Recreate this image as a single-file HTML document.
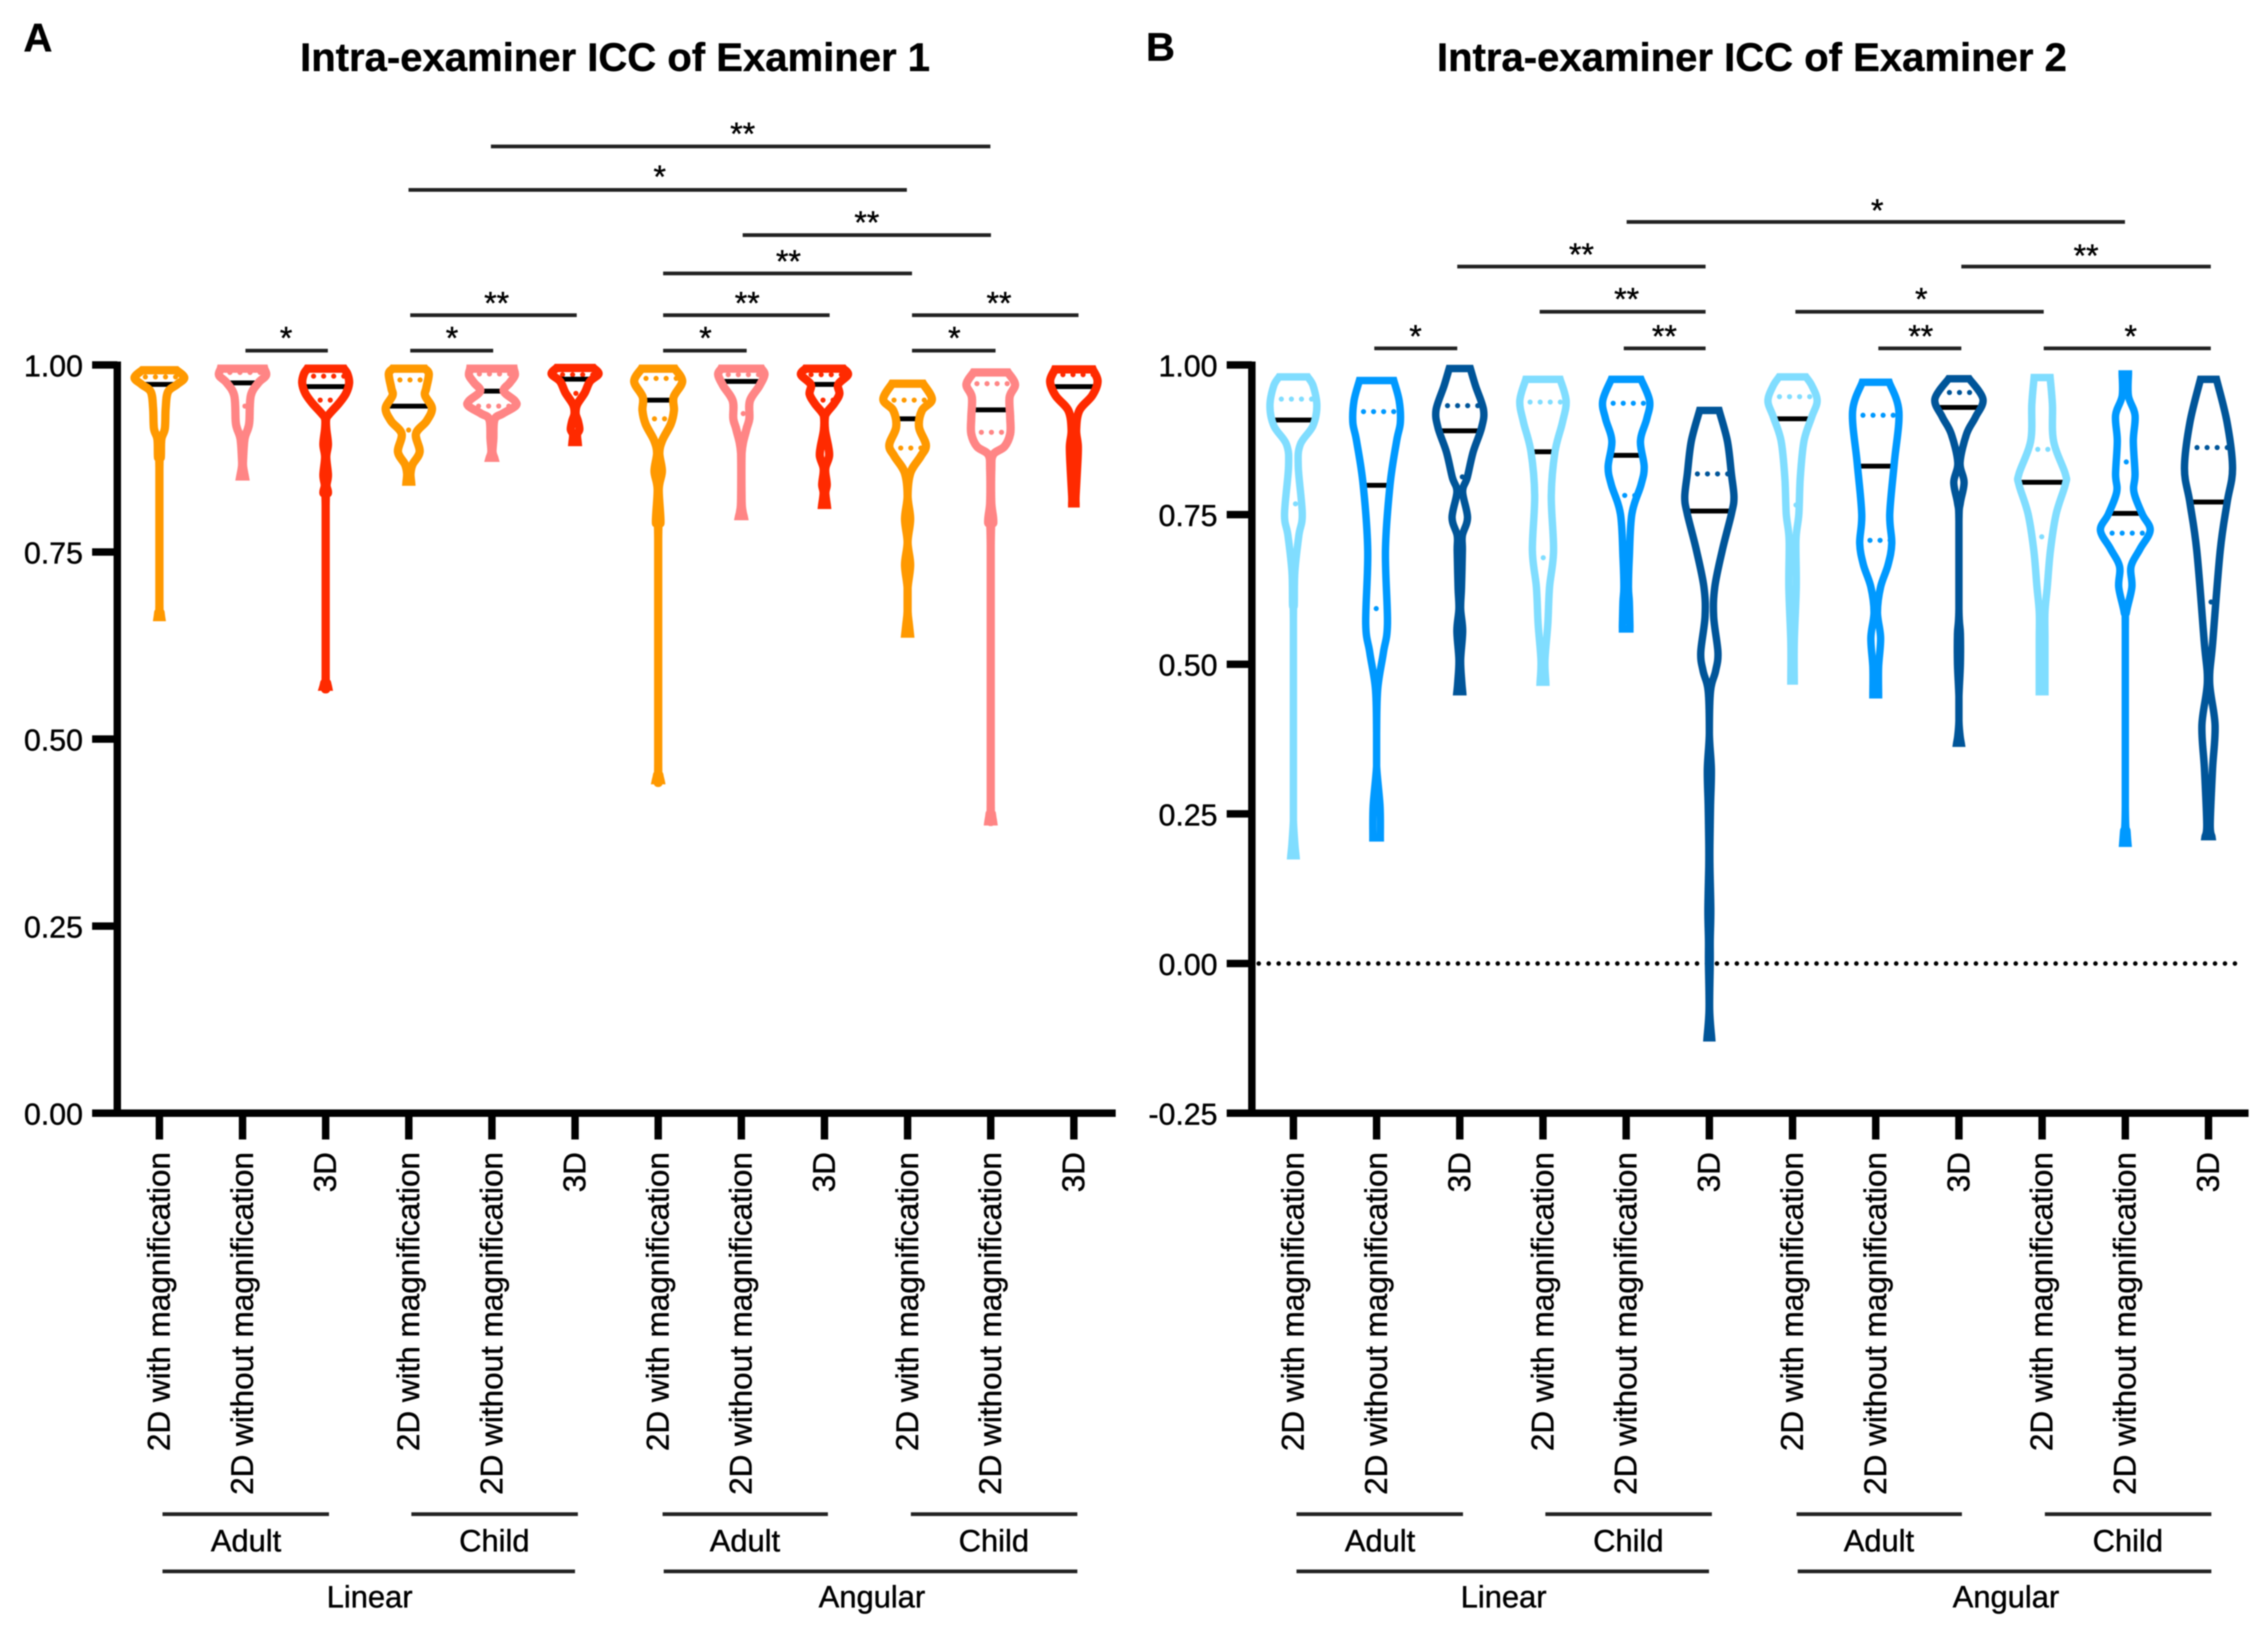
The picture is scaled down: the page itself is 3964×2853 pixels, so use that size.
<!DOCTYPE html>
<html lang="en">
<head>
<meta charset="utf-8">
<title>Intra-examiner ICC violin plots</title>
<style>
html,body{margin:0;padding:0;background:#fff;}
svg{display:block;filter:blur(1.1px);}
text{font-family:"Liberation Sans",Arial,sans-serif;fill:#000;stroke:#000;stroke-width:0.7px;}
</style>
</head>
<body>
<svg id="figure" xmlns="http://www.w3.org/2000/svg" width="3964" height="2853" viewBox="0 0 3964 2853">
<rect x="0" y="0" width="3964" height="2853" fill="#fff"/>

<text x="41" y="90" font-size="70" font-weight="bold">A</text>
<text x="2003" y="106" font-size="70" font-weight="bold">B</text>
<text x="1075" y="124" font-size="70" font-weight="bold" text-anchor="middle">Intra-examiner ICC of Examiner 1</text>
<text x="3062" y="124" font-size="70" font-weight="bold" text-anchor="middle">Intra-examiner ICC of Examiner 2</text>

<g stroke="#222" stroke-width="6.5" font-size="56" text-anchor="middle">
<line x1="858" x2="1731" y1="256" y2="256"/>
<text x="1298" y="253">**</text>
<line x1="714" x2="1585" y1="332" y2="332"/>
<text x="1153" y="328">*</text>
<line x1="1298" x2="1732" y1="411" y2="411"/>
<text x="1515" y="408">**</text>
<line x1="1159" x2="1594" y1="478" y2="478"/>
<text x="1378" y="476">**</text>
<line x1="717" x2="1008" y1="551" y2="551"/>
<text x="868" y="549">**</text>
<line x1="1159" x2="1450" y1="551" y2="551"/>
<text x="1306" y="549">**</text>
<line x1="1594" x2="1885" y1="551" y2="551"/>
<text x="1746" y="549">**</text>
<line x1="429" x2="573" y1="613" y2="613"/>
<text x="500" y="610">*</text>
<line x1="717" x2="862" y1="613" y2="613"/>
<text x="790" y="610">*</text>
<line x1="1159" x2="1305" y1="613" y2="613"/>
<text x="1233" y="610">*</text>
<line x1="1594" x2="1740" y1="613" y2="613"/>
<text x="1668" y="610">*</text>
</g>

<g stroke="#222" stroke-width="6.5" font-size="56" text-anchor="middle">
<line x1="2843" x2="3714" y1="388" y2="388"/>
<text x="3281" y="387">*</text>
<line x1="2547" x2="2981" y1="466" y2="466"/>
<text x="2764" y="464">**</text>
<line x1="3428" x2="3864" y1="466" y2="466"/>
<text x="3646" y="466">**</text>
<line x1="2691" x2="2981" y1="545" y2="545"/>
<text x="2843" y="542">**</text>
<line x1="3138" x2="3572" y1="545" y2="545"/>
<text x="3358" y="542">*</text>
<line x1="2402" x2="2547" y1="609" y2="609"/>
<text x="2474" y="607">*</text>
<line x1="2838" x2="2981" y1="609" y2="609"/>
<text x="2909" y="607">**</text>
<line x1="3283" x2="3428" y1="609" y2="609"/>
<text x="3357" y="607">**</text>
<line x1="3572" x2="3864" y1="609" y2="609"/>
<text x="3724" y="607">*</text>
</g>

<g font-size="54" text-anchor="middle" stroke="#222" stroke-width="6.5">
<line x1="284" x2="575" y1="2647" y2="2647"/>
<text x="430" y="2712">Adult</text>
<line x1="719" x2="1010" y1="2647" y2="2647"/>
<text x="864" y="2712">Child</text>
<line x1="284" x2="1005" y1="2747" y2="2747"/>
<text x="646" y="2810">Linear</text>
<line x1="1158" x2="1447" y1="2647" y2="2647"/>
<text x="1302" y="2712">Adult</text>
<line x1="1592" x2="1883" y1="2647" y2="2647"/>
<text x="1737" y="2712">Child</text>
<line x1="1160" x2="1883" y1="2747" y2="2747"/>
<text x="1524" y="2810">Angular</text>
</g>

<g font-size="54" text-anchor="middle" stroke="#222" stroke-width="6.5">
<line x1="2266" x2="2557" y1="2647" y2="2647"/>
<text x="2412" y="2712">Adult</text>
<line x1="2701" x2="2992" y1="2647" y2="2647"/>
<text x="2846" y="2712">Child</text>
<line x1="2266" x2="2987" y1="2747" y2="2747"/>
<text x="2628" y="2810">Linear</text>
<line x1="3140" x2="3429" y1="2647" y2="2647"/>
<text x="3284" y="2712">Adult</text>
<line x1="3574" x2="3865" y1="2647" y2="2647"/>
<text x="3719" y="2712">Child</text>
<line x1="3142" x2="3865" y1="2747" y2="2747"/>
<text x="3506" y="2810">Angular</text>
</g>
</svg>

<script>
// ---- Shared categories and tick labels ----
const xCategories = [
  '2D with magnification','2D without magnification','3D',
  '2D with magnification','2D without magnification','3D',
  '2D with magnification','2D without magnification','3D',
  '2D with magnification','2D without magnification','3D'
];
const yTicksA = [1.00,0.75,0.50,0.25,0.00];
const yTickLabelsA = ['1.00','0.75','0.50','0.25','0.00'];
const yTicksB = [1.00,0.75,0.50,0.25,0.00,-0.25];
const yTickLabelsB = ['1.00','0.75','0.50','0.25','0.00','-0.25'];

// ---- Panel A: ICC values of the density grid, one list per violin ----
const iccGridA = [
  [.993,.983,.974,.964,.942,.915,.901,.877,.860,.682,.669,.663],
  [.995,.986,.976,.959,.925,.915,.901,.874,.864,.851],
  [.995,.988,.976,.962,.949,.935,.928,.915,.894,.877,.853,.839,.829,.812,.587,.575,.570],
  [.995,.988,.969,.959,.942,.925,.908,.884,.867,.855,.844],
  [.995,.986,.976,.965,.952,.945,.935,.927,.901,.884,.876],
  [.996,.988,.978,.963,.947,.935,.925,.914,.907,.897],
  [.995,.978,.957,.939,.921,.899,.882,.858,.834,.79,.768,.469,.452,.445],
  [.995,.987,.972,.952,.928,.913,.882,.82,.805,.798],
  [.995,.987,.974,.961,.948,.932,.913,.891,.878,.864,.856,.84,.829,.813],
  [.975,.954,.939,.917,.893,.878,.856,.825,.794,.763,.733,.702,.671,.655,.641],
  [.99,.974,.957,.93,.908,.891,.88,.86,.816,.79,.759,.421,.4,.39],
  [.994,.978,.959,.939,.913,.891,.86,.825,.815]
];
// Panel A: relative density at each grid value
const densityA = [
  [60,87,62,30,22,19,7,5,0,0,4,6],
  [76,82,55,29,24,19,7,2,2,8],
  [64,76,82,71,47,14,2,2,8,2,8,3,8,0,0,5,8],
  [56,70,61,57,81,62,25,38,13,6,8],
  [76,80,62,41,80,82,38,9,5,2,8],
  [64,82,52,34,7,2,10,15,7,9],
  [58,84,54,55,44,14,4,13,2,8,0,0,4,8],
  [70,81,63,30,28,17,1,1,4,8],
  [66,82,48,52,33,2,2,13,16,4,3,8,3,8],
  [54,85,50,40,64,46,10,0,9,0,9,0,0,4,8],
  [60,85,66,68,68,48,8,2,2,9,0,0,4,8],
  [66,83,64,19,8,14,11,6,6]
];
const mediansA = [.974,.976,.971,.945,.965,.981,.953,.978,.974,.928,.94,.971];
const upperQuartilesA = [.984,.990,.985,.980,.988,.987,.982,.987,.987,.953,.975,.987];
const lowerQuartilesA = [.90,.945,.953,.913,.945,.962,.928,.935,.953,.889,.91,.90];

// ---- Panel B ----
const iccGridB = [
  [.98,.965,.931,.898,.867,.83,.751,.715,.654,.6,.568,.263,.239,.2,.18],
  [.974,.94,.904,.873,.8,.69,.568,.52,.459,.385,.33,.263,.21],
  [.994,.965,.925,.895,.855,.812,.788,.745,.715,.69,.629,.593,.556,.507,.47,.454],
  [.976,.94,.904,.855,.782,.69,.629,.568,.507,.47],
  [.976,.94,.91,.873,.83,.8,.751,.678,.629,.605,.568,.559],
  [.924,.873,.818,.779,.751,.69,.629,.58,.52,.489,.455,.385,.324,.263,.202,.163,.09,.04,0,-.076,-.124],
  [.98,.965,.94,.913,.873,.812,.751,.708,.629,.537,.472],
  [.971,.922,.837,.751,.702,.666,.629,.587,.544,.495,.449],
  [.977,.943,.913,.885,.837,.804,.77,.739,.593,.551,.501,.446,.405,.38,.368],
  [.979,.934,.873,.818,.8,.751,.69,.629,.587,.539,.454],
  [.985,.948,.916,.873,.818,.788,.751,.724,.693,.663,.629,.587,.556,.263,.22,.201],
  [.976,.904,.827,.77,.69,.538,.47,.398,.324,.233,.212]
];
const densityB = [
  [50,69,82,68,24,17,31,19,5,3,0,0,0,5,9],
  [60,79,83,70,47,31,38,24,4,0,0,12,13],
  [37,55,83,76,47,26,10,27,9,9,6,3,10,3,7,10],
  [60,81,68,42,29,37,23,17,7,10],
  [52,82,72,50,63,52,20,11,8,11,13,13],
  [34,63,77,86,77,45,19,15,30,22,4,0,7,4,2,2,5,3,3,1,8],
  [47,68,86,67,40,27,22,12,13,6,6],
  [47,81,65,49,56,43,17,6,17,10,10],
  [36,84,58,27,4,18,5,0,0,5,5,0,0,4,8],
  [28,36,40,81,81,49,29,18,10,10,10],
  [11,11,34,28,34,30,59,87,52,20,23,4,0,0,6,9],
  [28,65,84,65,41,15,4,23,14,6,12]
];
const mediansB = [.908,.799,.89,.855,.849,.756,.91,.831,.929,.804,.752,.771];
const upperQuartilesB = [.943,.922,.932,.938,.936,.818,.947,.916,.954,.859,.838,.862];
const lowerQuartilesB = [.768,.593,.813,.678,.782,.46,.766,.707,.80,.713,.719,.604];

const paletteA = ['#FF9900','#FF8585','#FF2A00'];
const paletteB = ['#80DDFF','#0099FF','#005599'];

const SVGNS = 'http://www.w3.org/2000/svg';
const figure = document.getElementById('figure');

function mk(parent, tag, attrs, txt) {
  const el = document.createElementNS(SVGNS, tag);
  for (const k in attrs) el.setAttribute(k, attrs[k]);
  if (txt !== undefined) el.textContent = txt;
  parent.appendChild(el);
  return el;
}

// Half-width of the violin outline at a given density
function widthScale(d) { return d * 0.5; }

// Linear interpolation of density at an ICC value
function densityAt(grid, dens, v) {
  if (v >= grid[0]) return dens[0];
  for (let i = 1; i < grid.length; i++) {
    if (v >= grid[i]) {
      const t = (grid[i - 1] - v) / (grid[i - 1] - grid[i]);
      return dens[i - 1] + (dens[i] - dens[i - 1]) * t;
    }
  }
  return dens[dens.length - 1];
}

// Smooth curve through the points, keeping every half-width non-negative
function curveThrough(pts, cx, side) {
  let s = '';
  for (let i = 0; i < pts.length - 1; i++) {
    const p0 = pts[Math.max(i - 1, 0)], p1 = pts[i], p2 = pts[i + 1], p3 = pts[Math.min(i + 2, pts.length - 1)];
    const c1x = p1[0] + (p2[0] - p0[0]) / 6, c1y = p1[1] + (p2[1] - p0[1]) / 6;
    const c2x = p2[0] - (p3[0] - p1[0]) / 6, c2y = p2[1] - (p3[1] - p1[1]) / 6;
    const k1 = side * Math.max(0, side * (c1x - cx)) + cx;
    const k2 = side * Math.max(0, side * (c2x - cx)) + cx;
    s += 'C' + k1.toFixed(1) + ' ' + c1y.toFixed(1) + ' ' + k2.toFixed(1) + ' ' + c2y.toFixed(1) + ' ' + p2[0].toFixed(1) + ' ' + p2[1].toFixed(1);
  }
  return s;
}

function drawPanel(cfg) {
  const xOf = i => cfg.x0 + cfg.step * i;
  const yOf = v => 638 + (1 - v) * cfg.unit;
  const panel = mk(figure, 'g', {});
  
  

  if (cfg.zeroLine) {
    const zero = mk(panel, 'line', {x1: cfg.axisX + 12, x2: cfg.axisEnd - 10, y1: yOf(0), y2: yOf(0), stroke: '#000', 'stroke-width': 8, 'stroke-linecap': 'round', 'stroke-dasharray': '0.01 17.4'});
    
    
  }

  cfg.grid.forEach((grid, i) => {
    const dens = cfg.density[i];
    const cx = xOf(i);
    const color = cfg.palette[i % 3];
    const g = mk(panel, 'g', {});
    
    

    [cfg.q3[i], cfg.q1[i]].forEach((q, k) => {
      const h = widthScale(densityAt(grid, dens, q));
      const dots = mk(g, 'line', {x1: cx - h, x2: cx + h, y1: yOf(q), y2: yOf(q), stroke: color, 'stroke-width': 9, 'stroke-linecap': 'round', 'stroke-dasharray': '0.01 17.6'});
      
      
    });

    const mh = widthScale(densityAt(grid, dens, cfg.median[i]));
    const med = mk(g, 'line', {x1: cx - mh, x2: cx + mh, y1: yOf(cfg.median[i]), y2: yOf(cfg.median[i]), stroke: '#000', 'stroke-width': 8.5});
    
    

    const left = grid.map((v, j) => [cx - widthScale(dens[j]), yOf(v)]);
    const right = grid.map((v, j) => [cx + widthScale(dens[j]), yOf(v)]).reverse();
    const d = 'M' + left[0][0].toFixed(1) + ' ' + left[0][1].toFixed(1) +
      curveThrough(left, cx, -1) +
      'L' + right[0][0].toFixed(1) + ' ' + right[0][1].toFixed(1) +
      curveThrough(right, cx, 1) + 'Z';
    const outline = mk(g, 'path', {d: d, fill: 'none', stroke: color, 'stroke-width': cfg.strokeW, 'stroke-linejoin': 'miter', 'stroke-miterlimit': 3});
    
    
  });

  // Axes drawn after the marks
  const yAxis = mk(panel, 'line', {x1: cfg.axisX, x2: cfg.axisX, y1: 632, y2: 1952, stroke: '#000', 'stroke-width': 13});
  
  
  const xAxis = mk(panel, 'line', {x1: cfg.axisX - 44, x2: cfg.axisEnd, y1: 1946, y2: 1946, stroke: '#000', 'stroke-width': 13});
  
  

  cfg.yTicks.forEach((v, i) => {
    const tick = mk(panel, 'line', {x1: cfg.axisX - 44, x2: cfg.axisX, y1: yOf(v), y2: yOf(v), stroke: '#000', 'stroke-width': 13});
    
    
    const label = mk(panel, 'text', {x: cfg.axisX - 60, y: yOf(v) + 20, 'font-size': 53, 'text-anchor': 'end'}, cfg.yLabels[i]);
    
    
  });

  xCategories.forEach((name, i) => {
    const cx = xOf(i);
    const tick = mk(panel, 'line', {x1: cx, x2: cx, y1: 1946, y2: 1992, stroke: '#000', 'stroke-width': 13});
    
    
    const bx = cx + 18;
    const label = mk(panel, 'text', {x: bx, y: 2014, 'font-size': 55, 'text-anchor': 'end', transform: 'rotate(-90 ' + bx + ' 2014)'}, name);
    
    
  });
}

drawPanel({
  id: 'a', x0: 278.6, step: 145.3, unit: 1308, axisX: 205, axisEnd: 1950, strokeW: 14.5,
  grid: iccGridA, density: densityA, median: mediansA, q3: upperQuartilesA, q1: lowerQuartilesA,
  palette: paletteA, yTicks: yTicksA, yLabels: yTickLabelsA, zeroLine: false
});
drawPanel({
  id: 'b', x0: 2260.6, step: 145.4, unit: 1046.4, axisX: 2188, axisEnd: 3930, strokeW: 13,
  grid: iccGridB, density: densityB, median: mediansB, q3: upperQuartilesB, q1: lowerQuartilesB,
  palette: paletteB, yTicks: yTicksB, yLabels: yTickLabelsB, zeroLine: true
});
</script>
</body>
</html>
